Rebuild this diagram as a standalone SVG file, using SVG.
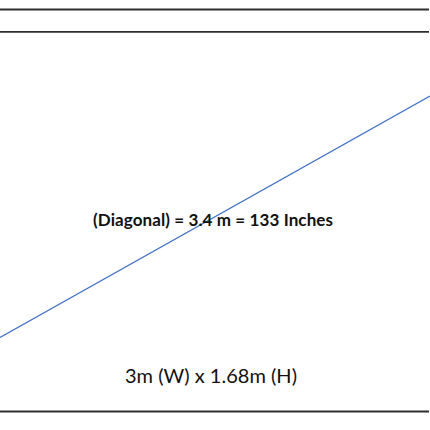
<svg xmlns="http://www.w3.org/2000/svg" width="430" height="430" viewBox="0 0 430 430">
<style>
.edge{stroke:#2e2e2e;stroke-width:1.8;fill:none}
.diag{stroke:#4472C4;stroke-width:1.4;fill:none}
.t{font-family:Lato,"Open Sans","Liberation Sans",sans-serif;fill:#111;text-anchor:middle}
</style>
<rect width="430" height="430" fill="#fff"/>
<g id="frame">
<line class="edge" x1="0" y1="9.5" x2="429" y2="9.5"/>
<line class="edge" x1="0" y1="31.8" x2="429" y2="31.8"/>
<line class="edge" x1="0" y1="411.5" x2="429" y2="411.5"/>
</g>
<g id="connectors">
<line class="diag" x1="0" y1="337.5" x2="430" y2="96"/>
</g>
<g id="diagonal-label">
<text class="t" x="213" y="226" font-size="17" font-weight="bold" textLength="240" lengthAdjust="spacing">(Diagonal) = 3.4 m = 133 Inches</text>
</g>
<g id="size-label">
<text class="t" x="211" y="383" font-size="20" textLength="172" lengthAdjust="spacing">3m (W) x 1.68m (H)</text>
</g>
</svg>
